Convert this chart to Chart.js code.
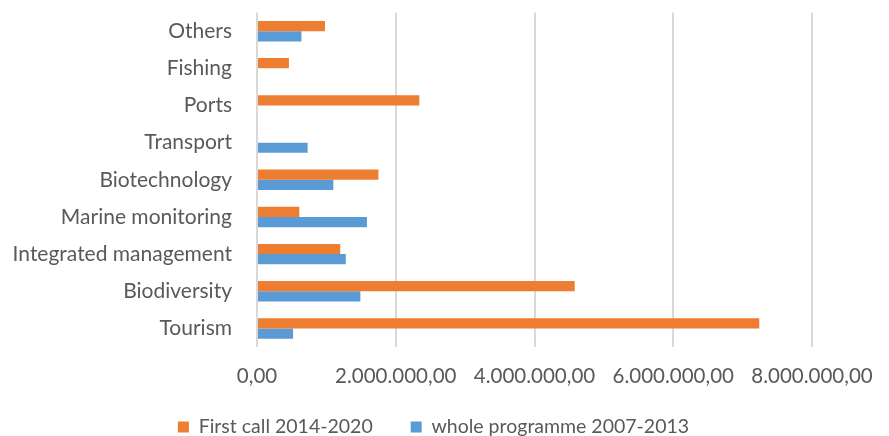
<!DOCTYPE html>
<html>
<head>
<meta charset="utf-8">
<script src="https://cdn.jsdelivr.net/npm/chart.js@4.4.1/dist/chart.umd.min.js"></script>
<style>
  html, body { margin: 0; padding: 0; background: #fff; }
  #wrap { width: 889px; height: 436px; }
</style>
</head>
<body>
<div id="wrap"><canvas id="chart"></canvas></div>
<script>
// data (top to bottom)
const categories = ['Others', 'Fishing', 'Ports', 'Transport', 'Biotechnology',
  'Marine monitoring', 'Integrated management', 'Biodiversity', 'Tourism'];
const firstCall = [980000, 460000, 2340000, null, 1750000, 610000, 1200000, 4580000, 7240000];
const wholeProgramme = [640000, null, null, 730000, 1100000, 1585000, 1280000, 1490000, 520000];
const seriesNames = ['First call 2014-2020', 'whole programme 2007-2013'];
const xTicks = [0, 2000000, 4000000, 6000000, 8000000];

// 2000000 -> "2.000.000,00"
function fmt(v) {
  const parts = Math.round(v).toString().replace(/\B(?=(\d{3})+(?!\d))/g, '.');
  return parts + ',00';
}

const textColor = '#595959';
const family = 'Lato, "Open Sans", sans-serif';

new Chart(document.getElementById('chart'), {
  type: 'bar',
  data: {
    labels: categories,
    datasets: [
      { label: seriesNames[0], data: firstCall, backgroundColor: '#ED7D31' },
      { label: seriesNames[1], data: wholeProgramme, backgroundColor: '#5B9BD5' }
    ]
  },
  options: {
    indexAxis: 'y',
    responsive: true,
    maintainAspectRatio: false,
    animation: false,
    categoryPercentage: 0.55,
    barPercentage: 1.0,
    // legend sits a bit lower than chart.js would put it
    layout: { padding: { top: 12, right: 22, bottom: -10.75, left: 0 } },
    scales: {
      x: {
        min: 0,
        max: 8000000,
        afterBuildTicks: (scale) => { scale.ticks = xTicks.map(v => ({ value: v })); },
        afterFit: (scale) => {
          scale.height = 32.25;
          scale.paddingRight = 77;
          // labels hang below the shortened axis box, so don't clip them
          scale._computeLabelArea = () => undefined;
        },
        grid: { color: '#D9D9D9', lineWidth: 2, drawTicks: false },
        border: { display: false },
        ticks: { color: textColor, font: { family, size: 20.5 }, padding: 17.5, maxRotation: 0, callback: (v) => fmt(v) }
      },
      y: {
        grid: { drawOnChartArea: false, drawTicks: true, tickLength: 25, tickColor: 'rgba(0,0,0,0)' },
        border: { display: false },
        afterFit: (scale) => { scale.width = 257; },
        ticks: { color: textColor, font: { family, size: 21 }, padding: 0 }
      }
    },
    plugins: {
      legend: {
        position: 'bottom',
        labels: { color: textColor, font: { family, size: 19.5 }, boxWidth: 11, boxHeight: 11, padding: 38 }
      },
      tooltip: { enabled: false }
    }
  }
});
</script>
</body>
</html>
